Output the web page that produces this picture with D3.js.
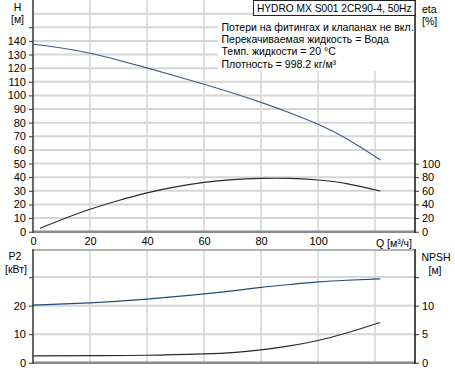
<!DOCTYPE html>
<html>
<head>
<meta charset="utf-8">
<script src="https://cdn.jsdelivr.net/npm/d3@7"></script>
<style>
  body { margin: 0; background: #fff; }
  svg text { font-family: "Liberation Sans", Arial, sans-serif; fill: #000; }
</style>
</head>
<body>
<svg id="chart"></svg>
<script>
// flow values (m3/h) and curves
const qHead = [0, 10, 20, 30, 40, 50, 60, 70, 80, 90, 100, 110, 120, 121.8];
const head  = [137.5, 134.8, 130.9, 125.8, 120.2, 114.3, 108.2, 101.8, 94.9, 87.3, 78.8, 68.2, 55.2, 52.8];

const qEta = [2.45, 10, 20, 30, 40, 50, 60, 70, 80, 90, 100, 110, 121.8];
const eta  = [5, 17.5, 32.8, 45.8, 57, 65.8, 72.4, 76.4, 78.2, 78.2, 75.8, 70.6, 59.6];

const qPow = [0, 20, 40, 60, 70, 80, 90, 100, 110, 121.8];
const p2   = [20.2, 21, 22.3, 24.1, 25.2, 26.4, 27.4, 28.3, 28.9, 29.4];

const qNpsh = [0, 20, 40, 60, 70, 80, 90, 100, 110, 121.8];
const npsh  = [1.19, 1.24, 1.3, 1.54, 1.77, 2.25, 2.95, 3.9, 5.2, 7.04];

const qTicks = [0, 20, 40, 60, 80, 100];
const hTicks = [0, 10, 20, 30, 40, 50, 60, 70, 80, 90, 100, 110, 120, 130, 140];
const etaTicks = [0, 20, 40, 60, 80, 100];
const p2Ticks = [0, 10, 20];
const npshTicks = [0, 5, 10];

const infoLines = [
  "Потери на фитингах и клапанах не вкл.",
  "Перекачиваемая жидкость = Вода",
  "Темп. жидкости = 20 °C",
  "Плотность = 998.2 кг/м³"
];
const title = "HYDRO MX S001 2CR90-4, 50Hz";

const W = 455, H = 371;
const left = 33, right = 415;
const top1 = 0, bot1 = 231.7;
const top2 = 250, bot2 = 362.7;

const svg = d3.select('#chart').attr('width', W).attr('height', H);

const x = d3.scaleLinear().domain([0, 134]).range([left, right]);
const yH = d3.scaleLinear().domain([0, 170]).range([bot1, top1]);
const yEta = d3.scaleLinear().domain([0, 340]).range([bot1, top1]);
const yP = d3.scaleLinear().domain([0, 39.5]).range([bot2, top2]);
const yN = d3.scaleLinear().domain([0, 19.75]).range([bot2, top2]);

const grid = svg.append('g');
const gridCol = '#d6d6d6';

// top plot grid
d3.range(10, 170, 10).forEach(v => {
  grid.append('line').attr('x1', left).attr('x2', right)
    .attr('y1', yH(v)).attr('y2', yH(v))
    .attr('stroke', gridCol).attr('stroke-width', 2);
});
[20, 40, 60, 80, 100, 120].forEach(v => {
  grid.append('line').attr('x1', x(v)).attr('x2', x(v))
    .attr('y1', top1).attr('y2', bot1)
    .attr('stroke', gridCol).attr('stroke-width', 1.5);
  grid.append('line').attr('x1', x(v)).attr('x2', x(v))
    .attr('y1', top2).attr('y2', bot2)
    .attr('stroke', gridCol).attr('stroke-width', 1.5);
});
// bottom plot grid
[10, 20, 30].forEach(v => {
  grid.append('line').attr('x1', left).attr('x2', right)
    .attr('y1', yP(v)).attr('y2', yP(v))
    .attr('stroke', gridCol).attr('stroke-width', 2);
});

// white area behind the info text
svg.append('rect').attr('x', 218).attr('y', 15).attr('width', right - 218).attr('height', 56)
  .attr('fill', '#fff');

// curves
const line = (xs, ys, ysc) => d3.line().curve(d3.curveNatural)
  .x((d, i) => x(xs[i])).y((d, i) => ysc(ys[i]))(ys);

svg.append('path').attr('d', line(qHead, head, yH))
  .attr('fill', 'none').attr('stroke', '#3a5a8e').attr('stroke-width', 1.1);
svg.append('path').attr('d', line(qEta, eta, yEta))
  .attr('fill', 'none').attr('stroke', '#2a2a2a').attr('stroke-width', 1.1);
svg.append('path').attr('d', line(qPow, p2, yP))
  .attr('fill', 'none').attr('stroke', '#1f4a7a').attr('stroke-width', 1.2);
svg.append('path').attr('d', line(qNpsh, npsh, yN))
  .attr('fill', 'none').attr('stroke', '#2a2a2a').attr('stroke-width', 1.1);

// axes frame lines
svg.append('line').attr('x1', left).attr('x2', right).attr('y1', bot1).attr('y2', bot1)
  .attr('stroke', '#8a8a8a').attr('stroke-width', 2.5);
svg.append('line').attr('x1', left).attr('x2', right).attr('y1', top2).attr('y2', top2)
  .attr('stroke', '#9a9a9a').attr('stroke-width', 1.5);
svg.append('line').attr('x1', left).attr('x2', right).attr('y1', bot2).attr('y2', bot2)
  .attr('stroke', '#8a8a8a').attr('stroke-width', 2.5);

// left H axis
const axH = svg.append('g').attr('transform', `translate(${left},0)`)
  .call(d3.axisLeft(yH).tickValues(hTicks.concat([150])).tickSize(4).tickPadding(3)
    .tickFormat(d => d === 150 ? '' : d));
// right eta axis
const axE = svg.append('g').attr('transform', `translate(${right},0)`)
  .call(d3.axisRight(yEta).tickValues(etaTicks).tickSize(4).tickPadding(3));
// bottom Q axis labels
const axQ = svg.append('g').attr('transform', `translate(0,${bot1})`)
  .call(d3.axisBottom(x).tickValues(qTicks).tickSize(0).tickPadding(6));
// lower plot axes
const axP = svg.append('g').attr('transform', `translate(${left},0)`)
  .call(d3.axisLeft(yP).tickValues(p2Ticks.concat([30])).tickSize(4).tickPadding(3)
    .tickFormat(d => d === 30 ? '' : d));
const axN = svg.append('g').attr('transform', `translate(${right},0)`)
  .call(d3.axisRight(yN).tickValues(npshTicks.concat([15])).tickSize(4).tickPadding(3)
    .tickFormat(d => d === 15 ? '' : d));

[axH, axE, axQ, axP, axN].forEach(a => {
  a.select('.domain').remove();
  a.selectAll('text').style('font-size', '11px');
  a.selectAll('.tick line').attr('stroke', '#333');
});

// vertical axis lines
svg.append('line').attr('x1', left).attr('x2', left).attr('y1', top1).attr('y2', bot1 + 1)
  .attr('stroke', '#333').attr('stroke-width', 1.5);
svg.append('line').attr('x1', right).attr('x2', right).attr('y1', top1).attr('y2', bot1 + 1)
  .attr('stroke', '#111').attr('stroke-width', 1.5);
svg.append('line').attr('x1', left).attr('x2', left).attr('y1', top2 - 1).attr('y2', bot2 + 1)
  .attr('stroke', '#333').attr('stroke-width', 1.5);
svg.append('line').attr('x1', right).attr('x2', right).attr('y1', top2 - 1).attr('y2', bot2 + 1)
  .attr('stroke', '#111').attr('stroke-width', 1.5);

// axis titles
const label = (tx, ty, t, anchor) => svg.append('text').attr('x', tx).attr('y', ty)
  .attr('text-anchor', anchor || 'middle').style('font-size', '10.5px').text(t);
label(394, bot1 + 15, 'Q [м³/ч]');
label(17.5, 11, 'H');
label(17.5, 23, '[м]');
label(422, 13, 'eta', 'start');
label(422, 24.5, '[%]', 'start');
label(15, 260, 'P2');
label(16, 272.5, '[кВт]');
label(436, 261, 'NPSH');
label(435, 273.5, '[м]');

// title box
svg.append('rect').attr('x', 253.5).attr('y', 0.5).attr('width', right - 253.5).attr('height', 15)
  .attr('fill', '#fff').attr('stroke', '#222').attr('stroke-width', 1);
svg.append('text').attr('x', (253.5 + right) / 2).attr('y', 11.5).attr('text-anchor', 'middle')
  .style('font-size', '10.2px').text(title);

infoLines.forEach((t, i) => {
  svg.append('text').attr('x', 221.5).attr('y', 30.5 + i * 12.4)
    .style('font-size', '10.5px').text(t);
});
</script>
</body>
</html>
